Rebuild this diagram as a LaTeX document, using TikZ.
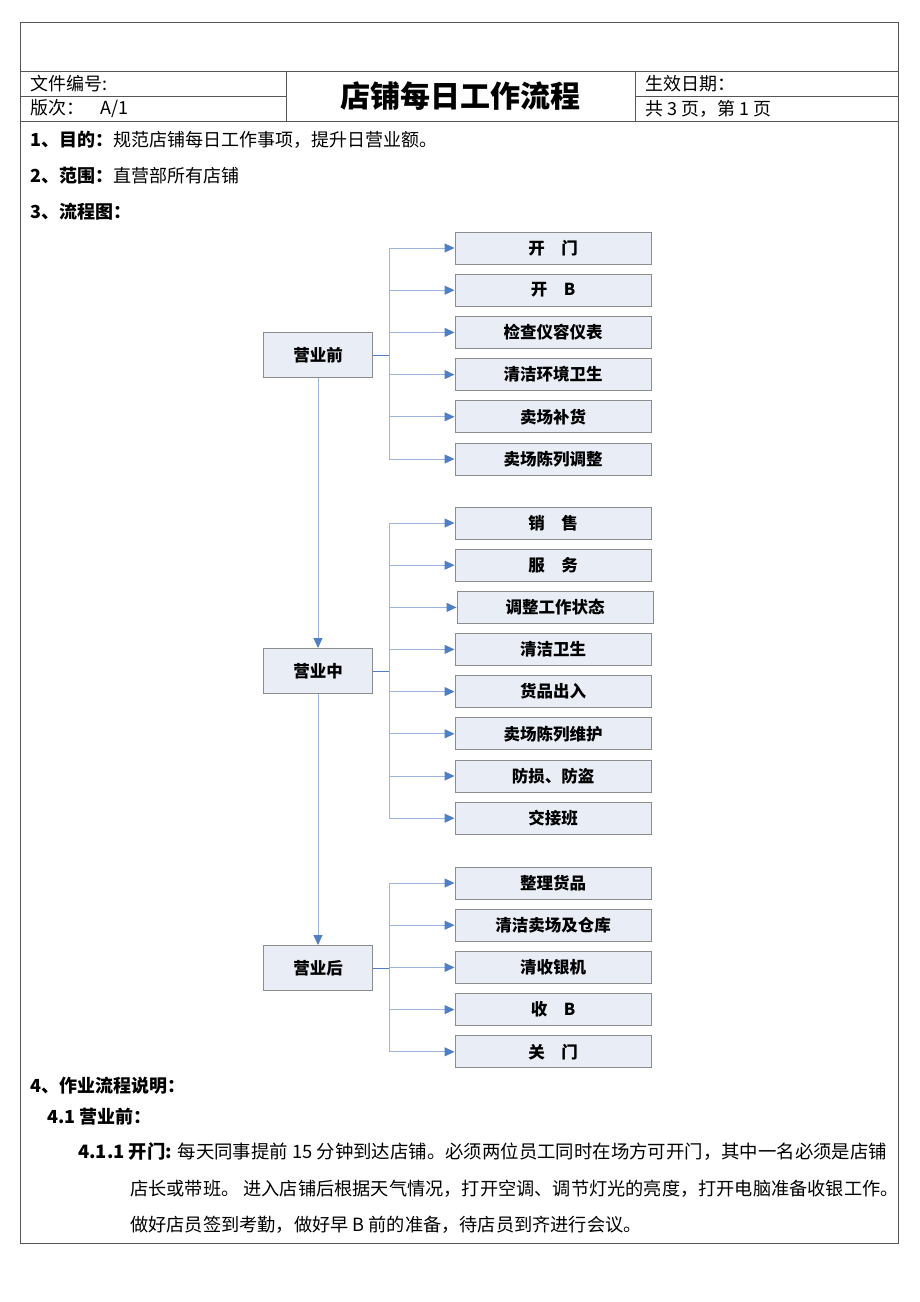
\documentclass[tikz,border=0pt]{standalone}
\usepackage{fontspec}
\setmainfont{Noto Sans CJK SC}
\usepackage{tikz}
\usetikzlibrary{arrows,arrows.meta,positioning}
\definecolor{boxfill}{HTML}{E8EDF6}
\definecolor{boxline}{HTML}{8C8C8C}
\definecolor{linkblue}{HTML}{9AB3DF}
\definecolor{tipblue}{HTML}{4F7FC4}
\definecolor{frameline}{HTML}{555555}

\begin{document}
\begin{tikzpicture}[x=1pt,y=-1pt,node distance=42.2pt,>={Triangle[length=10pt,width=9pt,color=tipblue]}]
  \tikzstyle{stage}=[rectangle,draw=boxline,fill=boxfill,line width=1pt,
  		     minimum width=109pt,minimum height=45pt,
  		     font=\fontsize{16.5}{16.5}\selectfont\bfseries]
  \tikzstyle{task}=[stage,minimum width=196pt,minimum height=32pt]
  \tikzstyle{link}=[draw=linkblue,line width=1pt]
  \tikzstyle{stub}=[draw=tipblue,line width=1pt]
  \tikzstyle{txt}=[anchor=west,inner sep=0pt,font=\fontsize{18}{18}\selectfont]
  \useasboundingbox[fill=white] (0,0) rectangle (920,1302);
  % frame and header
  \draw[frameline,line width=1pt] (20,22) rectangle (898,1243);
  \draw[frameline,line width=0.8pt] (20,71) -- (898,71) (20,121) -- (898,121)
    (20,96) -- (286,96) (635,96) -- (898,96) (286,71) -- (286,121) (635,71) -- (635,121);
  \node[txt] (fileno) at (30,84) {文件编号:};
  \node[txt] (version) at (30,109) {版次：\hspace{16pt}A/1};
  \node[txt] (valid) at (645,84) {生效日期：};
  \node[txt] (pages) at (645,109) {共 3 页，第 1 页};
  \node[inner sep=0pt,font=\fontsize{30}{30}\selectfont\bfseries] (title) at (460,96) {店铺每日工作流程};
  \node[txt] (aim) at (30,140) {\textbf{1、目的：}规范店铺每日工作事项，提升日营业额。};
  \node[txt] (range) at (30,176) {\textbf{2、范围：}直营部所有店铺};
  \node[txt] (chart) at (30,212) {\textbf{3、流程图：}};
  % stages
  \node[stage] (pre) at (318,355) {营业前};
  \node[stage] (mid) at (318,671) {营业中};
  \node[stage] (post) at (318,968) {营业后};
  \begin{scope}
    \node[task] (p1) at (553,248) {开\quad 门};
    \node[task] (p2) [below of=p1] {开\quad B};
    \node[task] (p3) [below of=p2] {检查仪容仪表};
    \node[task] (p4) [below of=p3] {清洁环境卫生};
    \node[task] (p5) [below of=p4] {卖场补货};
    \node[task] (p6) [below of=p5] {卖场陈列调整};
  \end{scope}
  \begin{scope}
    \node[task] (m1) at (553,523) {销\quad 售};
    \node[task] (m2) [below of=m1] {服\quad 务};
    \node[task] (m3) [below of=m2,xshift=2pt] {调整工作状态};
    \node[task] (m4) [below of=m2,yshift=-42pt] {清洁卫生};
    \node[task] (m5) [below of=m4] {货品出入};
    \node[task] (m6) [below of=m5] {卖场陈列维护};
    \node[task] (m7) [below of=m6] {防损、防盗};
    \node[task] (m8) [below of=m7] {交接班};
  \end{scope}
  \begin{scope}
    \node[task] (a1) at (553,883) {整理货品};
    \node[task] (a2) [below of=a1] {清洁卖场及仓库};
    \node[task] (a3) [below of=a2] {清收银机};
    \node[task] (a4) [below of=a3] {收\quad B};
    \node[task] (a5) [below of=a4] {关\quad 门};
  \end{scope}
  % connectors
  \foreach \i in {1,...,6}
    \draw[link,->] (pre.east) -- ++(16,0) |- (p\i.west);
  \foreach \i in {1,...,8}
    \draw[link,->] (mid.east) -- ++(16,0) |- (m\i.west);
  \foreach \i in {1,...,5}
    \draw[link,->] (post.east) -- ++(16,0) |- (a\i.west);
  \draw[stub] (pre.east) -- ++(16,0);
  \draw[stub] (mid.east) -- ++(16,0);
  \draw[stub] (post.east) -- ++(16,0);
  \draw[link,->] (pre) -- (mid);
  \draw[link,->] (mid) -- (post);
  % notes
  \node[txt] (notes) at (30,1086) {\textbf{4、作业流程说明：}};
  \node[txt] (before) at (47,1117) {\textbf{4.1 营业前：}};
  \node[txt,font=\fontsize{18.4}{18.4}\selectfont] (open1) at (78,1152) {\textbf{4.1.1 开门:} 每天同事提前 15 分钟到达店铺。必须两位员工同时在场方可开门，其中一名必须是店铺};
  \node[txt,font=\fontsize{18.2}{18.2}\selectfont] (open2) at (130,1189) {店长或带班。 进入店铺后根据天气情况，打开空调、调节灯光的亮度，打开电脑准备收银工作。};
  \node[txt,font=\fontsize{18.2}{18.2}\selectfont] (open3) at (130,1225) {做好店员签到考勤，做好早 B 前的准备，待店员到齐进行会议。};
\end{tikzpicture}
\end{document}
